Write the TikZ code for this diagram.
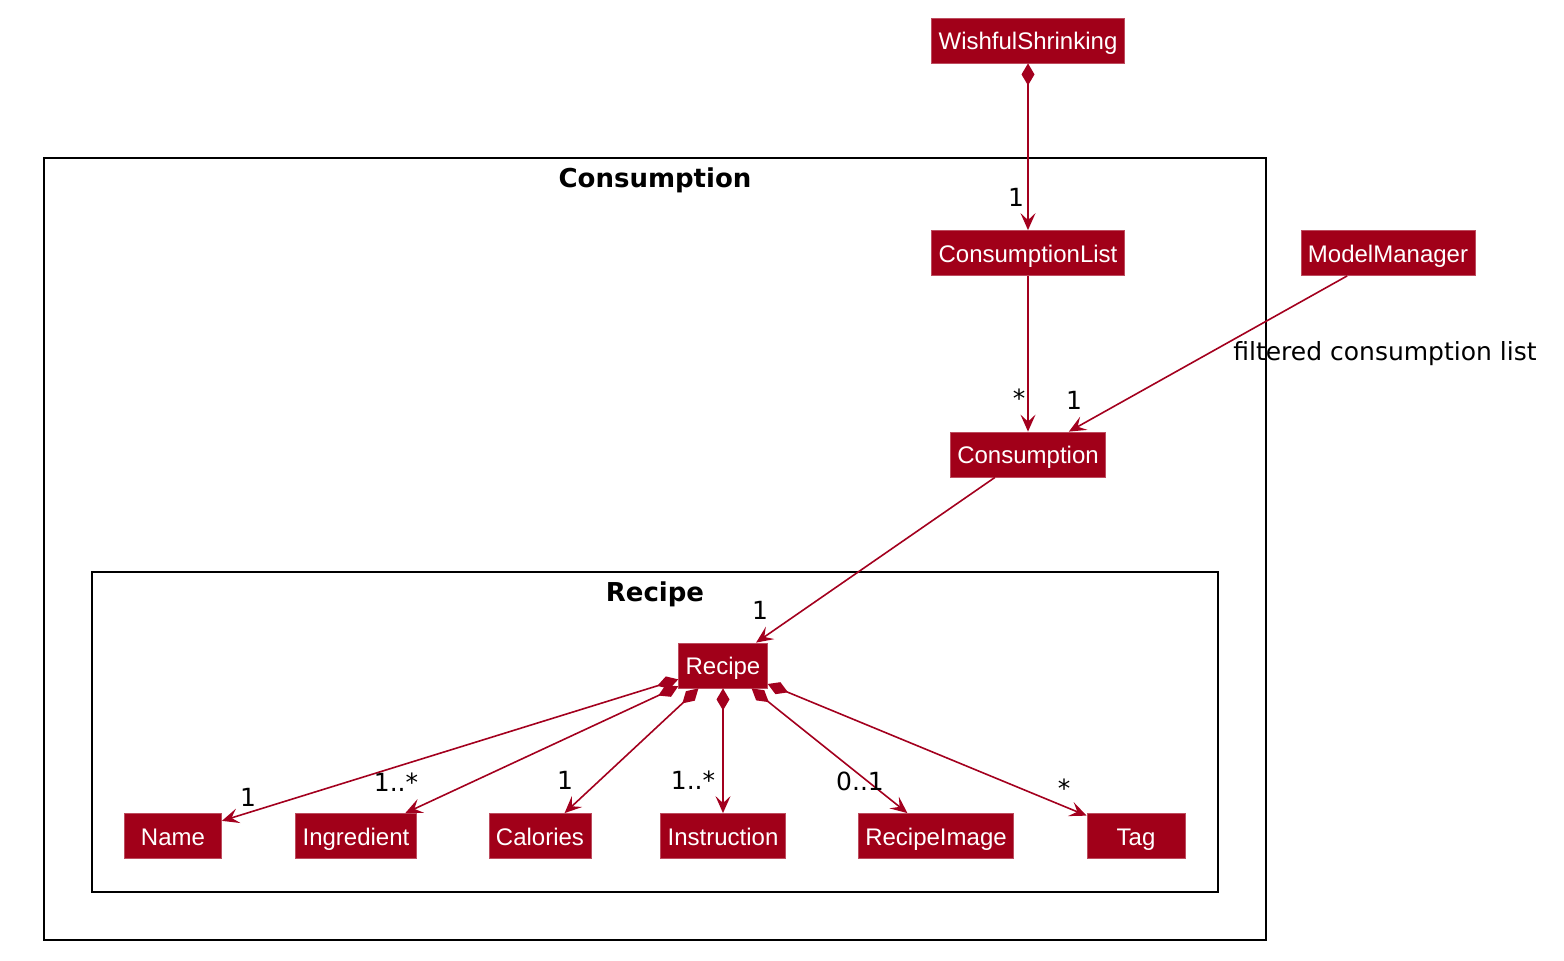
\documentclass[tikz,border=0pt]{standalone}
\usepackage{fontspec}
\setmainfont{DejaVu Sans}
\newfontfamily\clsfont{Liberation Sans}
\usetikzlibrary{arrows.meta}

\definecolor{umlred}{HTML}{A10019}
\definecolor{umledge}{HTML}{A3001E}

\tikzset{
  cls/.style={rectangle, fill=umlred, draw=umlred!70!white, line width=0.4pt, text=white,
    font=\clsfont\fontsize{12}{14}\selectfont, inner xsep=3.5pt, inner ysep=0pt,
    text height=11.6pt, text depth=2.6pt, minimum height=22.5pt},
  pkg/.style={draw=black, line width=1.1pt},
  pkgtitle/.style={font=\bfseries\fontsize{13}{15}\selectfont},
  mult/.style={font=\fontsize{12.5}{14}\selectfont, inner sep=0pt},
  assoc/.style={draw=umledge, line width=0.8pt, -{Stealth[length=8.5pt,width=7.5pt,inset=3.5pt]}},
  comp/.style={draw=umledge, line width=0.8pt, {Diamond[length=11pt,width=6.5pt]}-{Stealth[length=8.5pt,width=7.5pt,inset=3.5pt]}}
}

\begin{document}
\begin{tikzpicture}[x=0.5pt, y=-0.5pt]
\useasboundingbox (0,0) rectangle (1564,960);

% packages
\draw[pkg] (44,158) rectangle (1266,940);
\node[pkgtitle] (tConsumption) at (655,180) {Consumption};
\draw[pkg] (92,572) rectangle (1218,892);
\node[pkgtitle] (tRecipe) at (655,594) {Recipe};

% classes
\node[cls] (wish) at (1028,40.5) {WishfulShrinking};
\node[cls] (clist) at (1028,253) {ConsumptionList};
\node[cls] (model) at (1388,253) {ModelManager};
\node[cls] (cons) at (1028,454.5) {Consumption};
\node[cls] (recipe) at (723,665.5) {Recipe};

\node[cls, minimum width=48.5pt] (name) at (173,836) {Name};
\node[cls] (ingr) at (356,836) {Ingredient};
\node[cls, minimum width=50pt] (cal) at (540,836) {Calories};
\node[cls] (instr) at (723,836) {Instruction};
\node[cls] (img) at (936,836) {RecipeImage};
\node[cls, minimum width=49pt] (tag) at (1136,836) {Tag};

% connectors
\draw[comp] (wish) -- (clist);
\draw[assoc] (clist) -- (cons);
\draw[assoc] (model) -- (cons);
\draw[assoc] (cons) -- (recipe);

\draw[comp] (recipe) -- (name);
\draw[comp] (recipe) -- (ingr);
\draw[comp] (recipe) -- (cal);
\draw[comp] (recipe) -- (instr);
\draw[comp] (recipe) -- (img);
\draw[comp] (recipe) -- (tag);

% multiplicities
\node[mult] (mClist) at (1016,197) {1};
\node[mult] (mConsStar) at (1019,398) {*};
\node[mult] (mConsOne) at (1074,400) {1};
\node[mult] (lFiltered) at (1385,354) {filtered consumption list};
\node[mult] (mRecipe) at (760,610) {1};

\node[mult] (mName) at (248,797) {1};
\node[mult] (mIngr) at (396,782) {1..*};
\node[mult] (mCal) at (565,780) {1};
\node[mult] (mInstr) at (693,780) {1..*};
\node[mult] (mImg) at (860,781) {0..1};
\node[mult] (mTag) at (1064,788) {*};

\end{tikzpicture}
\end{document}
